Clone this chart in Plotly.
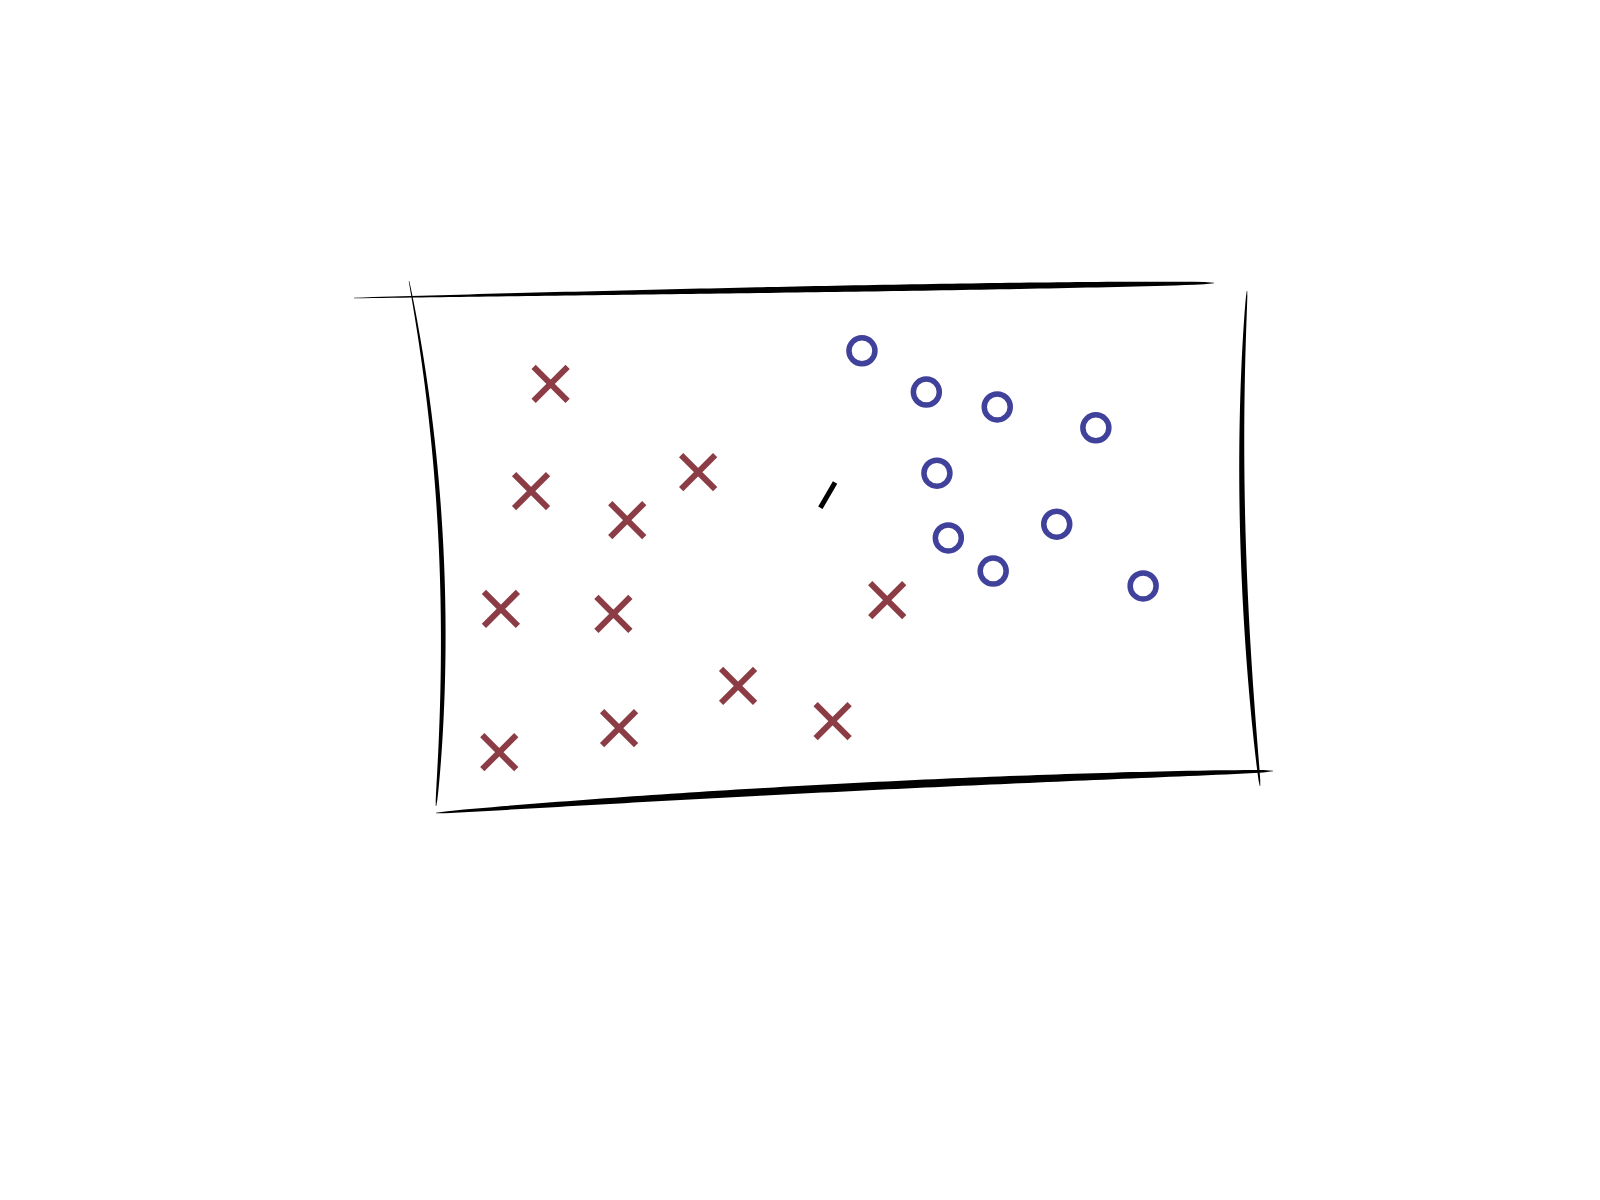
import numpy as np
import plotly.graph_objects as go

# ---- data (arbitrary units 0..10) ----
class_a_x = [1.48, 1.24, 2.42, 3.29, 0.87, 2.25, 5.61, 3.78, 4.94, 0.85, 2.32]
class_a_y = [8.06, 5.96, 5.39, 6.33, 3.65, 3.55, 3.82, 2.14, 1.45, 0.84, 1.31]
class_b_x = [5.30, 6.09, 6.96, 8.17, 6.22, 6.36, 7.69, 6.91, 8.75]
class_b_y = [8.71, 7.90, 7.61, 7.20, 6.31, 5.04, 5.31, 4.39, 4.10]
query_x = [4.88]
query_y = [5.88]

# ---- layout geometry (pixels) ----
W, H = 1600, 1200
L, R, T, B = 430, 355, 285, 405
PW, PH = W - L - R, H - T - B


def to_paper(px, py):
    return (px - L) / PW, (H - B - py) / PH


def stroke(p0, c, p2, wmax, peak=0.5, n=90):
    t = np.linspace(0, 1, n)
    p0, c, p2 = map(np.array, (p0, c, p2))
    pts = ((1 - t) ** 2)[:, None] * p0 + (2 * (1 - t) * t)[:, None] * c + (t ** 2)[:, None] * p2
    d = (2 * (1 - t))[:, None] * (c - p0) + (2 * t)[:, None] * (p2 - c)
    d = d / np.linalg.norm(d, axis=1)[:, None]
    nrm = np.stack([-d[:, 1], d[:, 0]], axis=1)
    k = np.log(0.5) / np.log(peak)
    w = wmax * np.sin(np.pi * t ** k) ** 0.45 + 0.5
    a = pts + nrm * (w / 2)[:, None]
    b = pts - nrm * (w / 2)[:, None]
    poly = np.vstack([a, b[::-1]])
    parts = []
    for i, (x, y) in enumerate(poly):
        xp, yp = to_paper(x, y)
        parts.append(("M" if i == 0 else "L") + f"{xp:.5f},{yp:.5f}")
    return dict(type="path", xref="paper", yref="paper", path=" ".join(parts) + " Z",
                fillcolor="black", line=dict(width=0), layer="above")


shapes = [
    stroke((354, 298), (780, 289), (1214, 283), 6.0, peak=0.68),   # top
    stroke((409, 281), (459, 538), (436, 806), 4.2, peak=0.62),    # left
    stroke((436, 813), (854, 782), (1273, 771), 7.5, peak=0.55),   # bottom
    stroke((1247, 291), (1232, 522), (1260, 786), 5.0, peak=0.55), # right
]

fig = go.Figure()
fig.add_trace(go.Scatter(
    x=class_a_x, y=class_a_y, mode="markers",
    marker=dict(symbol="x-thin-open", size=34, color="#8c3c44",
                line=dict(width=6, color="#8c3c44")),
    showlegend=False, hoverinfo="skip"))
fig.add_trace(go.Scatter(
    x=class_b_x, y=class_b_y, mode="markers",
    marker=dict(symbol="circle-open", size=26, color="#40419b",
                line=dict(width=5.5, color="#40419b")),
    showlegend=False, hoverinfo="skip"))
fig.add_trace(go.Scatter(
    x=query_x, y=query_y, mode="markers",
    marker=dict(symbol="line-ns-open", size=21, angle=30, color="black",
                line=dict(width=5, color="black")),
    showlegend=False, hoverinfo="skip"))

fig.update_layout(
    width=W, height=H,
    margin=dict(l=L, r=R, t=T, b=B),
    paper_bgcolor="white", plot_bgcolor="white",
    xaxis=dict(range=[0, 10], visible=False, fixedrange=True),
    yaxis=dict(range=[0, 10], visible=False, fixedrange=True),
    shapes=shapes,
)

fig.write_html("out.html")
